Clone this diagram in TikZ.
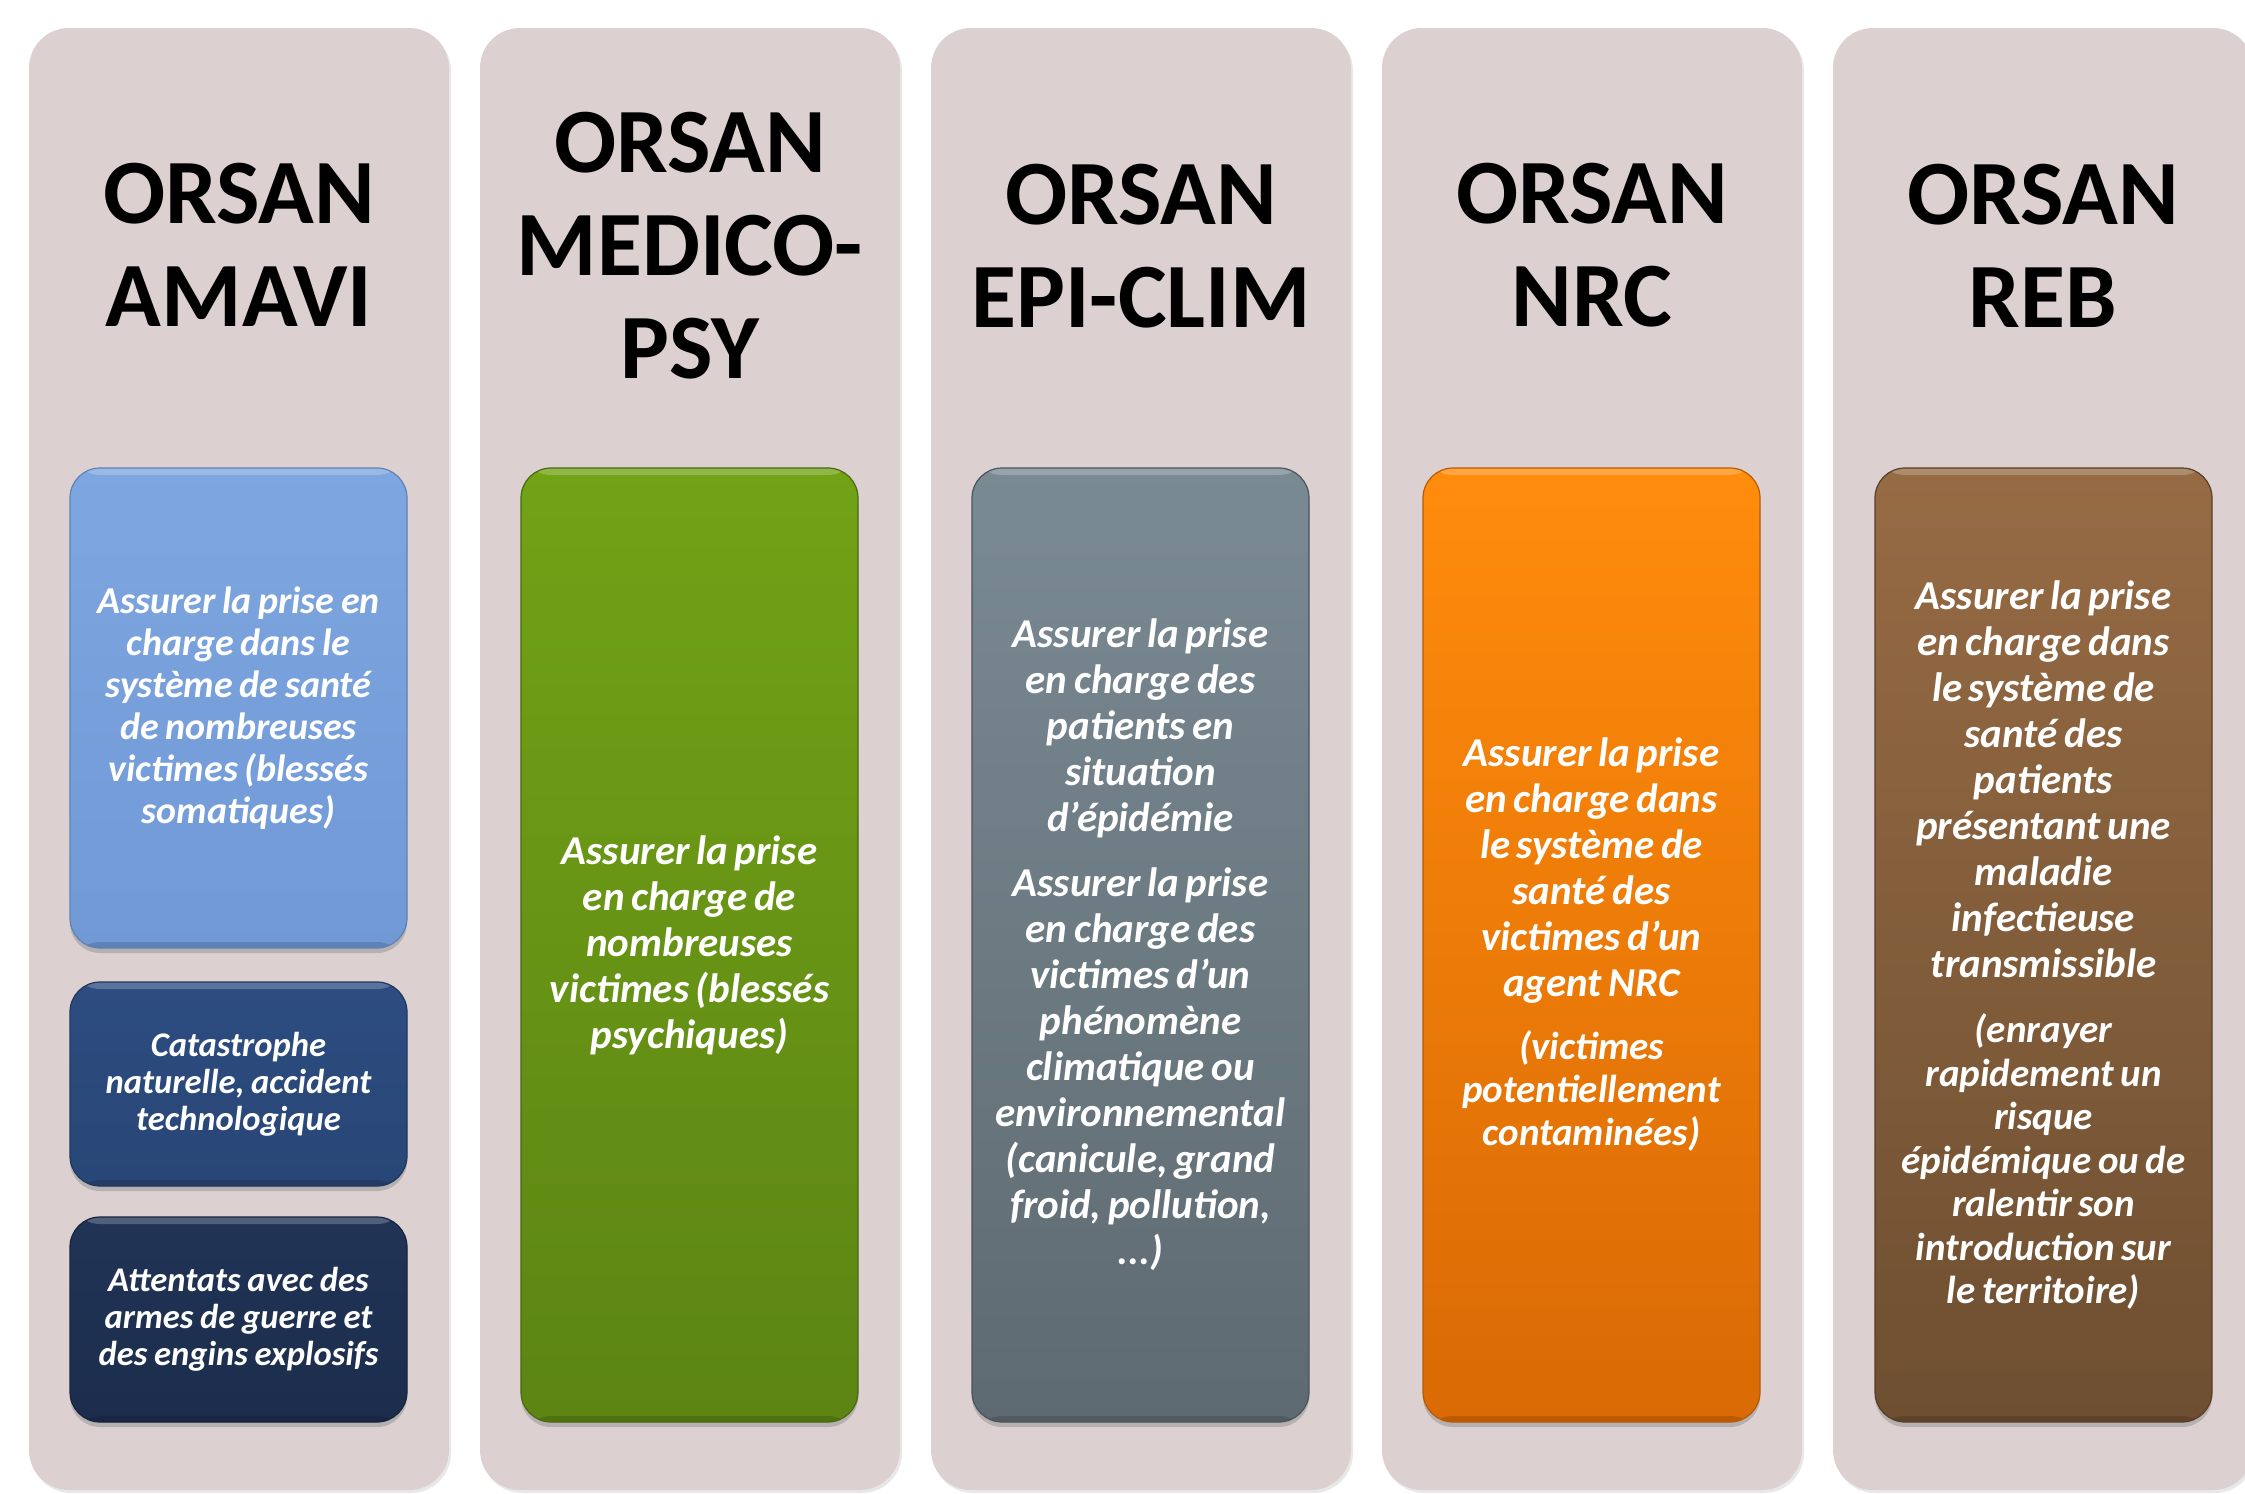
\documentclass[tikz,border=0pt]{standalone}
\usepackage{fontspec}
\setmainfont{Carlito}
\usetikzlibrary{shadows}
\definecolor{colbg}{HTML}{DCD0D0}
\definecolor{blueT}{HTML}{7EA6E0}
\definecolor{blueB}{HTML}{7099D6}
\definecolor{catT}{HTML}{2D4C80}
\definecolor{catB}{HTML}{284676}
\definecolor{attT}{HTML}{213456}
\definecolor{attB}{HTML}{1C2D4C}
\definecolor{greenT}{HTML}{72A216}
\definecolor{greenB}{HTML}{5C8514}
\definecolor{grayT}{HTML}{7A8A93}
\definecolor{grayB}{HTML}{5E6A71}
\definecolor{orangeT}{HTML}{FF8C0C}
\definecolor{orangeB}{HTML}{D96A05}
\definecolor{brownT}{HTML}{966B44}
\definecolor{brownB}{HTML}{6E4F31}
\newcommand\boxfont[2]{\fontsize{#1}{#2}\selectfont\bfseries\itshape}
\tikzset{
  colbox/.style={rectangle, rounded corners=20pt, fill=colbg, inner sep=0pt,
    minimum width=210pt, minimum height=731pt,
    drop shadow={opacity=0.18, shadow xshift=1pt, shadow yshift=-1.5pt}},
  title/.style={align=center, text=black, inner sep=0pt,
    font=\fontsize{46}{51.5}\selectfont\bfseries},
  inbox/.style={rectangle, rounded corners=15pt, inner sep=0pt, text=white,
    minimum width=168.5pt, text width=166pt, align=center, line width=0.6pt,
    drop shadow={opacity=0.4, shadow xshift=0pt, shadow yshift=-2.5pt},
    path picture={
      \fill[white,opacity=0.22] (path picture bounding box.north west)
        rectangle ([yshift=-3.5pt]path picture bounding box.north east);
      \fill[black,opacity=0.14] (path picture bounding box.south west)
        rectangle ([yshift=3pt]path picture bounding box.south east);}},
  bluebox/.style={inbox, top color=blueT, bottom color=blueB, draw=blueB!85!black},
  catbox/.style={inbox, top color=catT, bottom color=catB, draw=catB!80!black},
  attbox/.style={inbox, top color=attT, bottom color=attB, draw=attB!80!black},
  greenbox/.style={inbox, top color=greenT, bottom color=greenB, draw=greenB!80!black},
  graybox/.style={inbox, top color=grayT, bottom color=grayB, draw=grayB!80!black},
  orangebox/.style={inbox, top color=orangeT, bottom color=orangeB, draw=orangeB!85!black},
  brownbox/.style={inbox, top color=brownT, bottom color=brownB, draw=brownB!80!black}
}
\begin{document}
\begin{tikzpicture}[x=0.5pt,y=-0.5pt]
\useasboundingbox (0,0) rectangle (2245,1494);
\clip (0,0) rectangle (2245,1494);
\fill[white] (0,0) rectangle (2245,1494);

% columns
\node[colbox] (c1) at (239,759) {};
\node[colbox] (c2) at (690,759) {};
\node[colbox] (c3) at (1141,759) {};
\node[colbox] (c4) at (1592,759) {};
\node[colbox] (c5) at (2043,759) {};

% titles
\node[title] (t1) at (239,245) {ORSAN\\AMAVI};
\node[title] (t2) at (690,246) {ORSAN\\MEDICO-\\PSY};
\node[title] (t3) at (1141,246) {ORSAN\\EPI-CLIM};
\node[title] (t4) at (1592,245) {ORSAN\\NRC};
\node[title] (t5) at (2043,246) {ORSAN\\REB};

% column 1
\node[bluebox, minimum height=240pt] (b1) at (238.5,708)
  {\boxfont{19}{21}Assurer la prise en\\ charge dans le\\ système de santé\\ de nombreuses\\ victimes (blessés\\ somatiques)\par};
\node[catbox, minimum height=102pt] (b1a) at (238.5,1084)
  {\boxfont{17.3}{18.5}Catastrophe\\ naturelle, accident\\ technologique\par};
\node[attbox, minimum height=102.5pt] (b1b) at (238.5,1319.5)
  {\boxfont{17.3}{18.5}Attentats avec des\\ armes de guerre et\\ des engins explosifs\par};

% column 2
\node[greenbox, minimum height=477pt] (b2) at (689.5,945)
  {\boxfont{20.5}{23}Assurer la prise\\ en charge de\\ nombreuses\\ victimes (blessés\\ psychiques)\par};

% column 3
\node[graybox, minimum height=477pt] (b3) at (1140.5,945)
  {\boxfont{20.5}{23}Assurer la prise\\ en charge des\\ patients en\\ situation\\ d’épidémie\par\vspace{9.5pt}
   Assurer la prise\\ en charge des\\ victimes d’un\\ phénomène\\ climatique ou\\ environnemental\\ (canicule, grand\\ froid, pollution,\\ ...)\par};

% column 4
\node[orangebox, minimum height=477pt] (b4) at (1591.5,945)
  {\boxfont{20.5}{23}Assurer la prise\\ en charge dans\\ le système de\\ santé des\\ victimes d’un\\ agent NRC\par\vspace{10pt}
   \boxfont{19.5}{21.5}(victimes\\ potentiellement\\ contaminées)\par};

% column 5
\node[brownbox, minimum height=477pt] (b5) at (2043.5,945)
  {\boxfont{20.5}{23}Assurer la prise\\ en charge dans\\ le système de\\ santé des\\ patients\\ présentant une\\ maladie\\ infectieuse\\ transmissible\par\vspace{11pt}
   \boxfont{19.5}{21.75}(enrayer\\ rapidement un\\ risque\\ épidémique ou de\\ ralentir son\\ introduction sur\\ le territoire)\par};
\end{tikzpicture}
\end{document}
